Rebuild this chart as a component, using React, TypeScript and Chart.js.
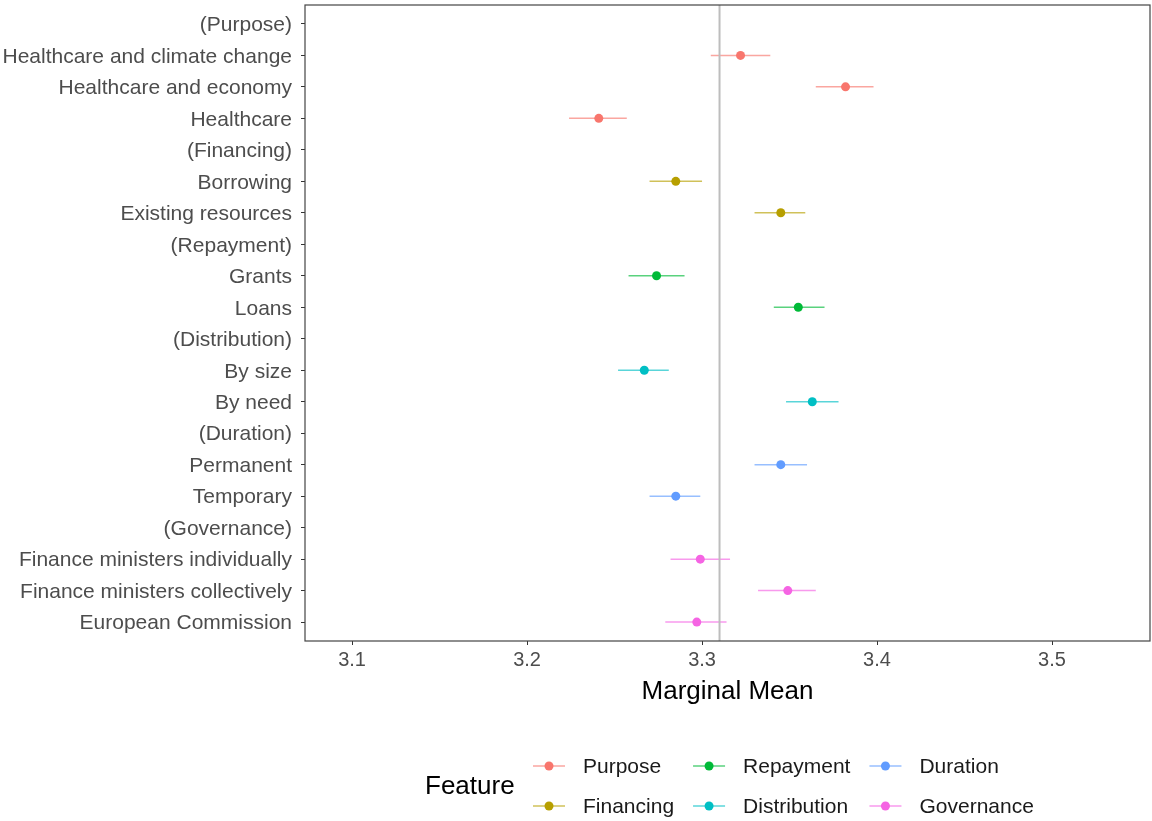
import React, { useEffect, useRef } from 'react';
import { Chart, registerables } from 'chart.js';

Chart.register(...registerables);

const categories = [
  '(Purpose)',
  'Healthcare and climate change',
  'Healthcare and economy',
  'Healthcare',
  '(Financing)',
  'Borrowing',
  'Existing resources',
  '(Repayment)',
  'Grants',
  'Loans',
  '(Distribution)',
  'By size',
  'By need',
  '(Duration)',
  'Permanent',
  'Temporary',
  '(Governance)',
  'Finance ministers individually',
  'Finance ministers collectively',
  'European Commission',
];

const estimates = [
  null, 3.322, 3.382, 3.241,
  null, 3.285, 3.345,
  null, 3.274, 3.355,
  null, 3.267, 3.363,
  null, 3.345, 3.285,
  null, 3.299, 3.349, 3.297,
];

const lowerCI = [
  null, 3.305, 3.365, 3.224,
  null, 3.270, 3.330,
  null, 3.258, 3.341,
  null, 3.252, 3.348,
  null, 3.330, 3.270,
  null, 3.282, 3.332, 3.279,
];

const upperCI = [
  null, 3.339, 3.398, 3.257,
  null, 3.300, 3.359,
  null, 3.290, 3.370,
  null, 3.281, 3.378,
  null, 3.360, 3.299,
  null, 3.316, 3.365, 3.314,
];

const rowFeature = [
  'Purpose', 'Purpose', 'Purpose', 'Purpose',
  'Financing', 'Financing', 'Financing',
  'Repayment', 'Repayment', 'Repayment',
  'Distribution', 'Distribution', 'Distribution',
  'Duration', 'Duration', 'Duration',
  'Governance', 'Governance', 'Governance', 'Governance',
];

const features = ['Purpose', 'Financing', 'Repayment', 'Distribution', 'Duration', 'Governance'];
const featureColors = ['#F8766D', '#B79F00', '#00BA38', '#00BFC4', '#619CFF', '#F564E3'];

const xTicks = [3.1, 3.2, 3.3, 3.4, 3.5];
const referenceMean = 3.31;
const xMin = 3.0731;
const xMax = 3.556;

const FONT = "'Liberation Sans', Arial, Helvetica, sans-serif";

function withAlpha(hex: string, a: number) {
  const r = parseInt(hex.slice(1, 3), 16);
  const g = parseInt(hex.slice(3, 5), 16);
  const b = parseInt(hex.slice(5, 7), 16);
  return `rgba(${r},${g},${b},${a})`;
}

const overlayPlugin = {
  id: 'overlay',
  beforeDatasetsDraw(chart: any) {
    const { ctx, chartArea, scales } = chart;
    const xs = scales.x;
    const ys = scales.y;
    ctx.save();
    ctx.beginPath();
    ctx.rect(chartArea.left, chartArea.top, chartArea.right - chartArea.left, chartArea.bottom - chartArea.top);
    ctx.clip();
    ctx.lineWidth = 1.5;
    estimates.forEach((est, i) => {
      if (est == null) return;
      const fi = features.indexOf(rowFeature[i]);
      const y = ys.getPixelForValue(i);
      ctx.strokeStyle = withAlpha(featureColors[fi], 0.65);
      ctx.beginPath();
      ctx.moveTo(xs.getPixelForValue(lowerCI[i] as number), y);
      ctx.lineTo(xs.getPixelForValue(upperCI[i] as number), y);
      ctx.stroke();
    });
    const vx = xs.getPixelForValue(referenceMean);
    ctx.strokeStyle = '#BDBDBD';
    ctx.lineWidth = 2;
    ctx.beginPath();
    ctx.moveTo(vx, chartArea.top);
    ctx.lineTo(vx, chartArea.bottom);
    ctx.stroke();
    ctx.restore();
  },
  afterDraw(chart: any) {
    const { ctx, chartArea } = chart;
    ctx.save();
    // panel border
    ctx.strokeStyle = '#444444';
    ctx.lineWidth = 1.2;
    ctx.strokeRect(chartArea.left, chartArea.top, chartArea.right - chartArea.left, chartArea.bottom - chartArea.top);

    // legend
    ctx.textAlign = 'left';
    ctx.textBaseline = 'middle';
    ctx.fillStyle = '#000000';
    ctx.font = `26px ${FONT}`;
    ctx.fillText('Feature', 425, 787);
    ctx.font = `21px ${FONT}`;
    const rows = [766, 806];
    let keyX = 533;
    for (let c = 0; c < 3; c++) {
      let maxW = 0;
      for (let r = 0; r < 2; r++) {
        const fi = c * 2 + r;
        const y = rows[r];
        ctx.strokeStyle = withAlpha(featureColors[fi], 0.65);
        ctx.lineWidth = 1.5;
        ctx.beginPath();
        ctx.moveTo(keyX, y);
        ctx.lineTo(keyX + 32, y);
        ctx.stroke();
        ctx.fillStyle = featureColors[fi];
        ctx.beginPath();
        ctx.arc(keyX + 16, y, 4.5, 0, Math.PI * 2);
        ctx.fill();
        ctx.fillStyle = '#1A1A1A';
        ctx.fillText(features[fi], keyX + 50, y + 1);
        maxW = Math.max(maxW, ctx.measureText(features[fi]).width);
      }
      keyX = keyX + 50 + maxW + 19;
    }
    ctx.restore();
  },
};

export default function App() {
  const canvasRef = useRef<HTMLCanvasElement | null>(null);

  useEffect(() => {
    if (!canvasRef.current) return;
    const datasets = features.map((f, fi) => ({
      label: f,
      data: estimates
        .map((est, i) => (est != null && rowFeature[i] === f ? { x: est, y: i } : null))
        .filter((p) => p != null),
      backgroundColor: featureColors[fi],
      borderColor: featureColors[fi],
      pointRadius: 4.5,
      pointBorderWidth: 0,
      pointHoverRadius: 4.5,
      showLine: false,
    }));

    const chart = new Chart(canvasRef.current, {
      type: 'scatter',
      data: { datasets: datasets as any },
      options: {
        animation: false,
        responsive: false,
        layout: { autoPadding: false, padding: { left: 0, top: 5, right: 2, bottom: 114 } },
        plugins: {
          legend: { display: false },
          tooltip: { enabled: false },
        },
        scales: {
          x: {
            type: 'linear',
            min: xMin,
            max: xMax,
            afterBuildTicks: (s: any) => {
              s.ticks = xTicks.map((v) => ({ value: v }));
            },
            afterFit: (s: any) => {
              s.height = 66;
              s.paddingLeft = 0;
              s.paddingRight = 0;
            },
            grid: {
              display: true,
              drawOnChartArea: false,
              drawTicks: true,
              tickLength: 4,
              color: '#333333',
              lineWidth: 1,
            },
            border: { display: false },
            ticks: {
              color: '#4D4D4D',
              font: { family: FONT, size: 20 },
              padding: 3,
              maxRotation: 0,
              autoSkip: false,
              callback: (v: any) => Number(v).toFixed(1),
            },
            title: {
              display: true,
              text: 'Marginal Mean',
              color: '#000000',
              font: { family: FONT, size: 26 },
              padding: { top: 0, bottom: 0 },
            },
          },
          y: {
            type: 'linear',
            reverse: true,
            min: -0.6,
            max: categories.length - 0.4,
            afterBuildTicks: (s: any) => {
              s.ticks = categories.map((_, i) => ({ value: i }));
            },
            afterFit: (s: any) => {
              s.width = 305;
              s.paddingTop = 0;
              s.paddingBottom = 0;
            },
            grid: {
              display: true,
              drawOnChartArea: false,
              drawTicks: true,
              tickLength: 4,
              color: '#333333',
              lineWidth: 1,
            },
            border: { display: false },
            ticks: {
              color: '#4D4D4D',
              font: { family: FONT, size: 21 },
              padding: 9,
              labelOffset: 1.5,
              autoSkip: false,
              callback: (v: any) => categories[Math.round(Number(v))],
            },
          },
        },
      },
      plugins: [overlayPlugin],
    });

    return () => chart.destroy();
  }, []);

  return (
    <div style={{ position: 'absolute', left: 0, top: 0, width: 1152, height: 821, background: '#ffffff' }}>
      <canvas ref={canvasRef} width={1152} height={821} style={{ display: 'block' }} />
    </div>
  );
}
